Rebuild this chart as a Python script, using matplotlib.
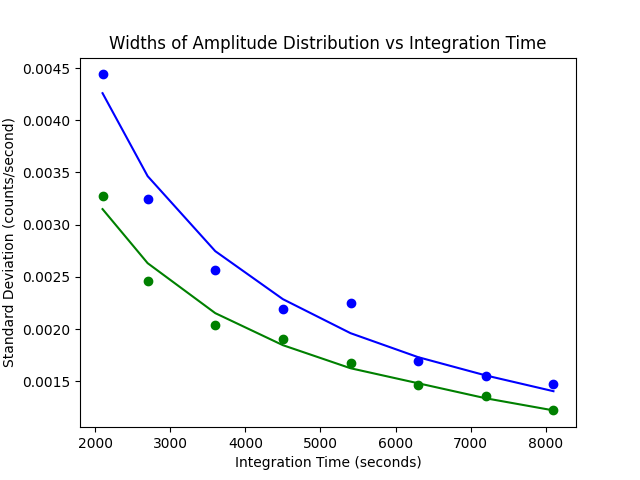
import numpy as np
import matplotlib
matplotlib.use('Agg')
import matplotlib.pyplot as plt

# 积分时间（秒）
times = [2100, 2700, 3600, 4500, 5400, 6300, 7200, 8100]
# 测量的标准差
blue_pts = [0.00444, 0.003244, 0.002564, 0.00219, 0.002248, 0.001692, 0.001548, 0.001471]
green_pts = [0.003273, 0.002458, 0.002037, 0.0019, 0.001673, 0.001462, 0.001356, 0.00122]
# 拟合曲线
blue_fit = [0.00426, 0.003465, 0.002746, 0.002286, 0.00196, 0.00173, 0.001555, 0.001404]
green_fit = [0.003149, 0.002631, 0.002152, 0.001845, 0.001624, 0.00148, 0.001336, 0.00122]

fig, ax = plt.subplots(figsize=(6.4, 4.8), dpi=100)
ax.plot(times, blue_pts, 'bo')
ax.plot(times, blue_fit, 'b-')
ax.plot(times, green_pts, 'go')
ax.plot(times, green_fit, 'g-')
ax.set_title('Widths of Amplitude Distribution vs Integration Time')
ax.set_xlabel('Integration Time (seconds)')
ax.set_ylabel('Standard Deviation (counts/second)')
plt.savefig('out.png')
